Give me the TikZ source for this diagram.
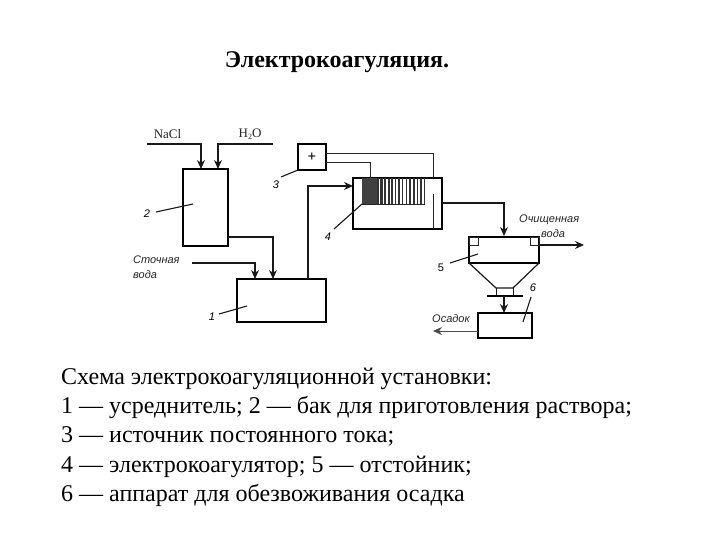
\documentclass[tikz,border=0pt]{standalone}
\usepackage{fontspec}
\setmainfont{Liberation Serif}
\newfontfamily\labfont{Liberation Sans}
\usetikzlibrary{arrows.meta}
\tikzset{
 boxn/.style={draw=black,line width=1.2pt,fill=none,inner sep=0pt,outer sep=0pt},
 pipe/.style={draw=black!90,line width=1.2pt},
 wire/.style={draw=black!85,line width=0.9pt},
 arr/.style={pipe,-{Stealth[length=9pt,width=8pt]}},
 leader/.style={draw=black!90,line width=1.1pt},
 numlab/.style={font=\labfont\itshape\fontsize{11}{11}\selectfont,inner sep=0pt},
 itlab/.style={font=\labfont\itshape\fontsize{11}{15}\selectfont,inner sep=0pt,align=left,text=black!85},
 serlab/.style={font=\fontsize{13}{13}\selectfont,inner sep=0pt,text=black!85},
 body/.style={font=\fontsize{24}{29.4}\selectfont,inner sep=0pt,align=left,anchor=north west},
}
\begin{document}
\begin{tikzpicture}[x=1pt,y=-1pt]
\useasboundingbox (0,0) rectangle (720,540);
\fill[white] (0,0) rectangle (720,540);
\node[font=\bfseries\fontsize{24}{24}\selectfont,inner sep=0pt] (title) at (337,62) {Электрокоагуляция.};
% boxes
\node[boxn,minimum width=45pt,minimum height=77pt] (b2) at (205.5,207.5) {};
\node[boxn,minimum width=89pt,minimum height=43pt] (b1) at (281.5,300.5) {};
\node[boxn,minimum width=28pt,minimum height=26pt,font=\fontsize{15}{15}\selectfont\bfseries] (b3) at (312,157) {+};
\node[boxn,minimum width=89pt,minimum height=51pt] (b4) at (397.5,203.5) {};
\node[boxn,minimum width=70pt,minimum height=26pt] (b5) at (504,250) {};
\node[boxn,minimum width=54pt,minimum height=25pt] (b6) at (505,325.5) {};
% electrode hatch
\fill[black!75] (362,178) rectangle (378,204);
\foreach \xx/\ww in {378/2.8,381.5/2.6,385/2.2,388.5/2,392/1.8,395.5/1.4,399/1.1,402.5/1.4,406.5/1,410/1.4,414/1.4,417.5/1.4,421/1.2,424.5/1.2}{
  \draw[black!80,line width=\ww pt] (\xx,178) -- (\xx,204);
}
\draw[black!85,line width=0.9pt] (362,204) -- (425,204);
% settler cone
\path[draw=black!90,line width=1.2pt,line join=miter]
 (469,263) -- (496,288) -- (513,288) -- (539,263);
\draw[black!90,line width=1pt] (496,288) -- (496,296) (513,288) -- (513,296);
\coordinate (plateL) at (487,296);
\coordinate (plateR) at (523,296);
\draw[black,line width=1.5pt] (plateL) -- (plateR);
\draw[black!85,line width=1pt] (469,245) rectangle (478,237);
\draw[black!85,line width=1pt] (530,245) rectangle (539,237);
% free ends
\coordinate (nS) at (147,144); \coordinate (hS) at (273,144);
\coordinate (nE) at (201,169); \coordinate (hE) at (218,169);
\coordinate (sS) at (192,263); \coordinate (sE) at (255,279);
\coordinate (b2o) at (228,237); \coordinate (b1i) at (273,279);
\coordinate (b1o) at (308,279); \coordinate (b4i) at (353,186);
\coordinate (b3a) at (326,153); \coordinate (b3b) at (326,162);
\coordinate (t4a) at (433,178); \coordinate (t4b) at (370,178);
\coordinate (b4o) at (442,203); \coordinate (b5i) at (504,236);
\coordinate (outA) at (539,245); \coordinate (outB) at (584,245);
\coordinate (plM) at (504,296); \coordinate (b6i) at (504,313);
\coordinate (b6o) at (478,331); \coordinate (osE) at (433,331);
% connectors
\draw[arr] (nS) -| (nE);
\draw[arr] (hS) -| (hE);
\draw[arr] (sS) -| (sE);
\draw[arr] (b2o) -| (b1i);
\draw[arr] (b1o) |- (b4i);
\draw[wire] (b3a) -| (t4a);
\draw[wire] (b3b) -| (t4b);
\draw[wire] (433,194) -- (433,229);
\draw[arr] (b4o) -| (b5i);
\draw[arr] (outA) -- (outB);
\draw[arr] (plM) -- (b6i);
\draw[arr,line width=0.8pt,black!70] (b6o) -- (osE);
% leaders and numbers
\node[numlab] (n1) at (212,317) {1};
\node[numlab] (n2) at (147,214) {2};
\node[numlab] (n3) at (276,185) {3};
\node[numlab] (n4) at (328,237) {4};
\node[numlab,font=\labfont\fontsize{11}{11}\selectfont] (n5) at (441,268) {5};
\node[numlab] (n6) at (533,288) {6};
\coordinate (l1) at (247,306); \coordinate (l2) at (193,204); \coordinate (l3) at (298,170);
\coordinate (l4) at (362,204); \coordinate (l5) at (478,254); \coordinate (l6) at (531,297);
\draw[leader] (219,314) -- (l1);
\draw[leader] (156,212) -- (l2);
\draw[leader] (281,177) -- (l3);
\draw[leader] (334,229) -- (l4);
\draw[leader] (450,263) -- (l5);
\draw[leader] (523,322) -- (l6);
% labels
\node[serlab] (nacl) at (167.5,134) {NaCl};
\node[serlab] (h2o) at (250,134) {H\raisebox{-2pt}{\fontsize{8}{8}\selectfont 2}O};
\node[itlab,anchor=north west] (stoch) at (133,256) {Сточная\\вода};
\node[itlab,anchor=north west] (clean) at (519,215) {Очищенная};
\node[itlab,anchor=north west] (clean2) at (541,229) {вода};
\node[itlab,anchor=west] (osadok) at (432,319) {Осадок};
% caption
\node[body] (cap) at (61,367.5) {Схема электрокоагуляционной установки:\\
1 — усреднитель; 2 — бак для приготовления раствора;\\
3 — источник постоянного тока;\\
4 — электрокоагулятор; 5 — отстойник;\\
6 — аппарат для обезвоживания осадка};
\end{tikzpicture}
\end{document}
